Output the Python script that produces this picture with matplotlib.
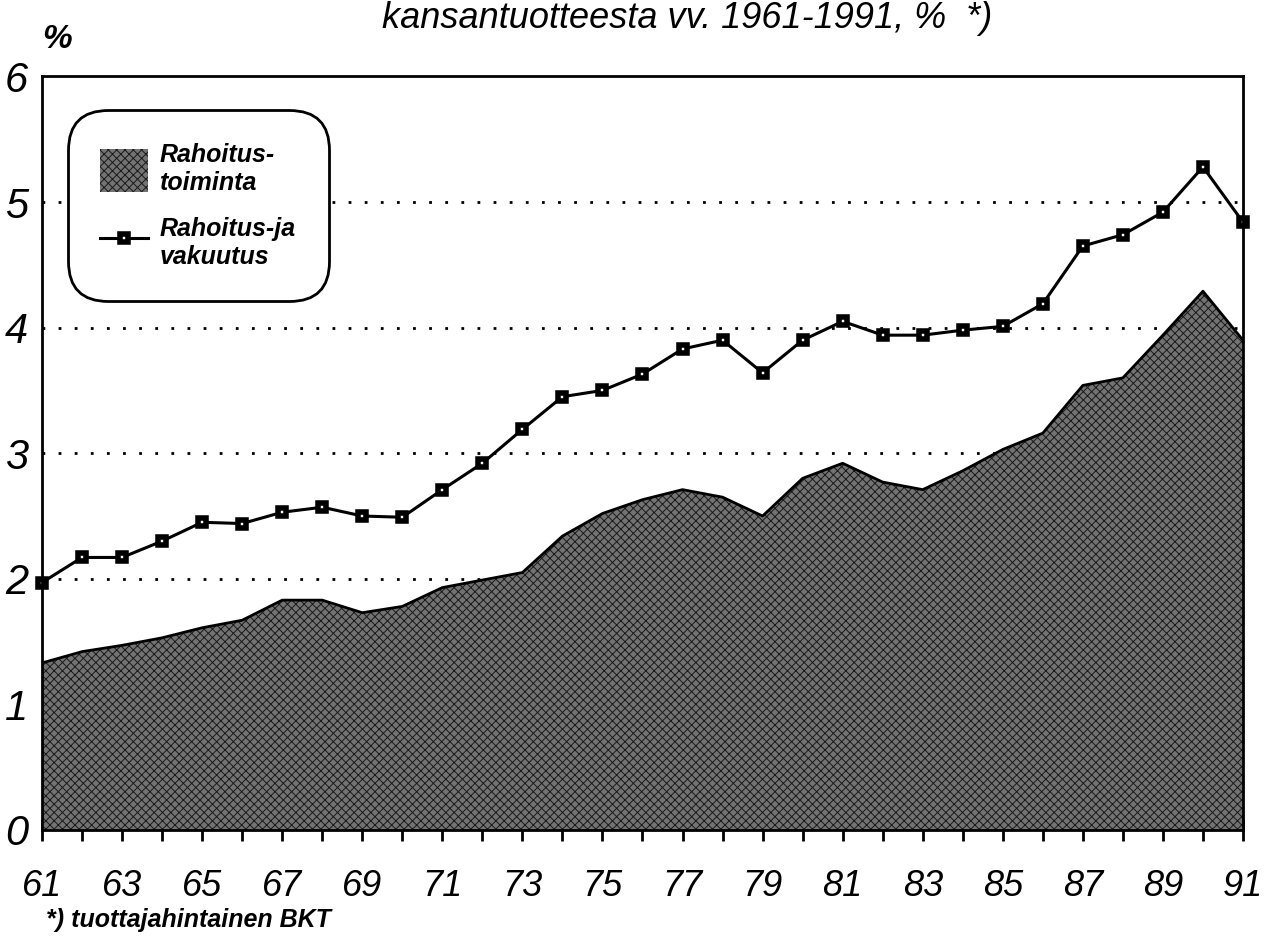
import matplotlib.pyplot as plt
from matplotlib.ticker import FixedLocator

years = list(range(61, 92))

# Rahoitustoiminta (area), % of GDP
rahoitus = [1.33, 1.42, 1.47, 1.53, 1.61, 1.67, 1.83, 1.83, 1.73, 1.78,
            1.93, 1.99, 2.05, 2.34, 2.52, 2.63, 2.71, 2.65, 2.50, 2.80,
            2.92, 2.77, 2.71, 2.86, 3.03, 3.16, 3.54, 3.60, 3.94, 4.29,
            3.90]

# Rahoitus- ja vakuutus (line), % of GDP
rahoitus_vak = [1.97, 2.17, 2.17, 2.30, 2.45, 2.44, 2.53, 2.57, 2.50, 2.49,
                2.71, 2.92, 3.19, 3.45, 3.50, 3.63, 3.83, 3.90, 3.64, 3.90,
                4.05, 3.94, 3.94, 3.98, 4.01, 4.19, 4.65, 4.74, 4.92, 5.28,
                4.84]

xlabels = [str(y) for y in range(61, 92, 2)]
ylabels = ['0', '1', '2', '3', '4', '5', '6']

plt.rcParams['font.family'] = ['Liberation Sans', 'DejaVu Sans']
plt.rcParams['hatch.linewidth'] = 0.7

fig = plt.figure(figsize=(12.65, 9.44), dpi=100)
ax = fig.add_axes([0.0332, 0.1208, 0.9494, 0.7982])

# dotted grid under the area
for v in [2, 3, 4, 5]:
    ax.axhline(v, color='black', lw=2, ls=(0, (1, 4.8)), zorder=1)

ax.fill_between(years, 0, rahoitus, facecolor='#737373', edgecolor='#1a1a1a',
                hatch='xxxx', lw=0, zorder=2, label='Rahoitus-\ntoiminta')
ax.plot(years, rahoitus, color='black', lw=2, zorder=3)

ax.plot(years, rahoitus_vak, color='black', lw=2.2, marker='s', ms=6,
        mfc='white', mec='black', mew=4, zorder=4, clip_on=False,
        label='Rahoitus-ja\nvakuutus')

ax.set_xlim(61, 91)
ax.set_ylim(0, 6)

ax.xaxis.set_major_locator(FixedLocator(list(range(61, 92, 2))))
ax.set_xticklabels(xlabels)
ax.xaxis.set_minor_locator(FixedLocator(list(range(62, 92, 2))))
ax.tick_params(axis='x', which='both', direction='inout', length=16, width=2,
               pad=20, labelsize=26)
for lab in ax.get_xticklabels():
    lab.set_style('italic')

ax.set_yticks(range(0, 7))
ax.set_yticklabels(ylabels)
ax.tick_params(axis='y', which='major', length=0, pad=10, labelsize=30)
for lab in ax.get_yticklabels():
    lab.set_style('italic')

for s in ax.spines.values():
    s.set_linewidth(2)
    s.set_zorder(5)

leg = ax.legend(loc='upper left', bbox_to_anchor=(0.015, 0.965), fancybox=True,
                prop={'weight': 'bold', 'style': 'italic', 'size': 18},
                handlelength=1.9, handleheight=2.3, labelspacing=0.9,
                borderpad=1.1, handletextpad=0.5, framealpha=1, edgecolor='black')
leg.get_frame().set_linewidth(2)
leg.get_frame().set_boxstyle('round', pad=0.2, rounding_size=1.6)

fig.text(0.543, 0.999, 'kansantuotteesta vv. 1961-1991, %  *)', ha='center', va='top',
         fontsize=26, style='italic')
fig.text(0.045, 0.958, '%', ha='center', va='center', fontsize=24, style='italic',
         weight='bold')
fig.text(0.036, 0.025, '*) tuottajahintainen BKT', ha='left', va='center', fontsize=18,
         style='italic', weight='bold')

fig.savefig('out.png', dpi=100)
